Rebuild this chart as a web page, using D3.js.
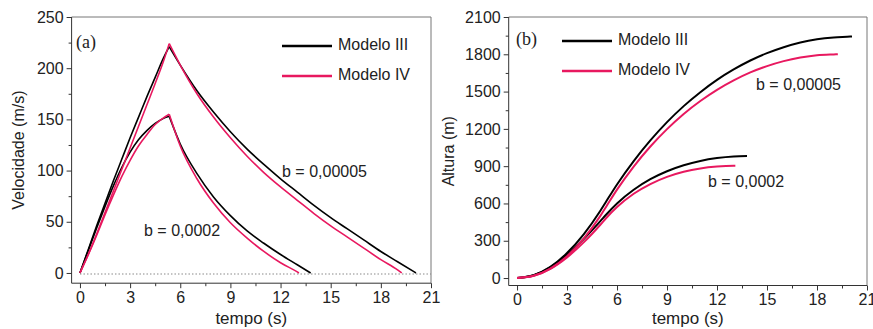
<!DOCTYPE html>
<html>
<head>
<meta charset="utf-8">
<script src="https://cdn.jsdelivr.net/npm/d3@7"></script>
<style>
  body { margin: 0; background: #fff; }
  svg { display: block; font-family: "Liberation Sans", Arial, sans-serif; }
</style>
</head>
<body>
<div id="chart"></div>
<script>
// ---- velocity (panel a) ----
var velT_III_b5 = [0,0.5,1,1.5,2,2.5,3,3.5,4,4.5,5,5.34,6,7,8,9,10,11,12,13,14,15,16,17,18,19,20,20.1];
var vel_III_b5  = [0,23,46,68,90,111,132,152,172,191,210,221,203,178,157,138,121,106,92,79,66,54,43,32,21,11,1,0];
var velT_IV_b5  = [0,0.5,1,1.5,2,2.5,3,3.5,4,4.5,5,5.34,6,7,8,9,10,11,12,13,14,15,16,17,18,19,19.25];
var vel_IV_b5   = [0,18,38,59,80,101,122,143,164,185,207,224,203,175,152,132,114,98,84,71,58,46,35,24,13,3,0];
var velT_III_b2 = [0,0.5,1,1.5,2,2.5,3,3.5,4,4.5,5,5.34,6,7,8,9,10,11,12,13,13.8];
var vel_III_b2  = [0,22,44,65,85,103,118,130,139,146,151,153,126,97,74,56,41,29,18,8,0];
var velT_IV_b2  = [0,0.5,1,1.5,2,2.5,3,3.5,4,4.5,5,5.34,6,7,8,9,10,11,12,13,13.1];
var vel_IV_b2   = [0,18,37,57,76,94,110,124,135,145,151.5,155,124,92,68,49,34,21,10,1,0];

// ---- altitude (panel b) ----
var altT_III_b5 = [0,1,2,3,4,5,5.34,6,7,8,9,10,11,12,13,14,15,16,17,18,19,20,20.1];
var alt_III_b5  = [0,23,90,201,351,541,614,753,941,1107,1254,1383,1495,1594,1678,1750,1809,1857,1895,1921,1936,1943,1944];
var altT_IV_b5  = [0,1,2,3,4,5,5.34,6,7,8,9,10,11,12,13,14,15,16,17,18,19,19.25];
var alt_IV_b5   = [0,18,76,176,317,500,572,711,897,1058,1198,1320,1424,1514,1590,1654,1705,1745,1774,1793,1799,1800];
var altT_III_b2 = [0,1,2,3,4,5,5.34,6,7,8,9,10,11,12,13,13.8];
var alt_III_b2  = [0,22,86,187,314,458,509,600,710,795,859,907,942,965,978,981];
var altT_IV_b2  = [0,1,2,3,4,5,5.34,6,7,8,9,10,11,12,13,13.1];
var alt_IV_b2   = [0,18,74,166,287,429,481,571,678,756,814,855,882,897,903,903];

var xTicks     = [0,3,6,9,12,15,18,21];
var velTicks   = [0,50,100,150,200,250];
var altTicks   = [0,300,600,900,1200,1500,1800,2100];
var seriesNames = ["Modelo III", "Modelo IV"];
var colors = {"Modelo III": "#000000", "Modelo IV": "#e8185f"};

var svg = d3.select("#chart").append("svg")
    .attr("width", 873)
    .attr("height", 329);

function zip(ts, vs) {
    return ts.map(function(t, i) { return [t, vs[i]]; });
}

function drawPanel(cfg) {
    var x = d3.scaleLinear().domain([-0.5, 21]).range(cfg.xRange);
    var y = d3.scaleLinear().domain(cfg.yDomain).range(cfg.yRange);
    var g = svg.append("g");

    var x0 = x(-0.5), x1 = x(21), y0 = y(cfg.yDomain[0]), y1 = y(cfg.yDomain[1]);

    // frame: top/right lighter
    g.append("line").attr("x1", x0).attr("x2", x1).attr("y1", y1).attr("y2", y1)
        .attr("stroke", "#777").attr("stroke-width", 1);
    g.append("line").attr("x1", x1).attr("x2", x1).attr("y1", y1).attr("y2", y0)
        .attr("stroke", "#777").attr("stroke-width", 1);

    // minor ticks
    var minorX = d3.range(1.5, 21, 3);
    var minorY = d3.range(cfg.yTicks[0] + cfg.yStep / 2, cfg.yTicks[cfg.yTicks.length - 1], cfg.yStep);

    g.append("g").attr("transform", "translate(0," + y0 + ")")
        .call(d3.axisBottom(x).tickValues(minorX).tickSize(3).tickFormat(""))
        .call(function(a) { a.select(".domain").remove(); a.selectAll("line").attr("stroke", "#333"); });
    g.append("g").attr("transform", "translate(" + x0 + ",0)")
        .call(d3.axisLeft(y).tickValues(minorY).tickSize(3).tickFormat(""))
        .call(function(a) { a.select(".domain").remove(); a.selectAll("line").attr("stroke", "#333"); });

    // major axes
    var xa = g.append("g").attr("transform", "translate(0," + y0 + ")")
        .call(d3.axisBottom(x).tickValues(xTicks).tickFormat(d3.format("d"))
            .tickSize(5).tickSizeOuter(0).tickPadding(3));
    xa.select(".domain").attr("stroke", "#333").attr("d", "M" + x0 + ",0H" + x1);
    xa.selectAll("line").attr("stroke", "#333");
    xa.selectAll("text").attr("font-size", 16).attr("fill", "#222").attr("font-family", "Liberation Sans, Arial, sans-serif");

    var ya = g.append("g").attr("transform", "translate(" + x0 + ",0)")
        .call(d3.axisLeft(y).tickValues(cfg.yTicks).tickFormat(d3.format("d"))
            .tickSize(5).tickSizeOuter(0).tickPadding(3));
    ya.select(".domain").attr("stroke", "#333").attr("d", "M0," + y0 + "V" + y1);
    ya.selectAll("line").attr("stroke", "#333");
    ya.selectAll("text").attr("font-size", 16).attr("fill", "#222").attr("font-family", "Liberation Sans, Arial, sans-serif");

    // axis titles
    g.append("text").attr("x", (x0 + x1) / 2).attr("y", cfg.xTitleY)
        .attr("text-anchor", "middle").attr("font-size", 17).attr("fill", "#222").text("tempo (s)");
    g.append("text")
        .attr("transform", "translate(" + cfg.yTitleX + "," + (y0 + y1) / 2 + ") rotate(-90)")
        .attr("text-anchor", "middle").attr("dominant-baseline", "middle")
        .attr("font-size", 16).attr("fill", "#222").text(cfg.yTitle);

    if (cfg.zeroLine) {
        g.append("line").attr("x1", x(0)).attr("x2", x1).attr("y1", y(-1)).attr("y2", y(-1))
            .attr("stroke", "#888").attr("stroke-width", 1.2).attr("stroke-dasharray", "1.5,2");
    }

    // curves
    var line = d3.line().x(function(d) { return x(d[0]); }).y(function(d) { return y(d[1]); })
        .curve(d3.curveMonotoneX);
    cfg.series.forEach(function(s) {
        var pts = zip(s.t, s.v);
        var parts = [pts];
        if (cfg.splitAtPeak) {
            var k = d3.maxIndex(pts, function(d) { return d[1]; });
            parts = [pts.slice(0, k + 1), pts.slice(k)];
        }
        parts.forEach(function(p) {
            g.append("path").attr("d", line(p)).attr("fill", "none")
                .attr("stroke", colors[s.name]).attr("stroke-width", cfg.lw)
                .attr("stroke-linejoin", "round");
        });
    });

    // panel label
    g.append("text").attr("x", cfg.label[1]).attr("y", cfg.label[2])
        .attr("font-family", "Liberation Serif, Times New Roman, serif")
        .attr("font-size", 18).attr("fill", "#222").text(cfg.label[0]);

    // legend
    seriesNames.forEach(function(n, i) {
        var ly = cfg.legend[1] + i * 30;
        g.append("line").attr("x1", cfg.legend[0]).attr("x2", cfg.legend[0] + 50)
            .attr("y1", ly).attr("y2", ly)
            .attr("stroke", colors[n]).attr("stroke-width", 2.5);
        g.append("text").attr("x", cfg.legend[0] + 56).attr("y", ly)
            .attr("dominant-baseline", "middle").attr("font-size", 16).attr("fill", "#222").text(n);
    });

    // annotations
    cfg.notes.forEach(function(n) {
        g.append("text").attr("x", n[1]).attr("y", n[2])
            .attr("dominant-baseline", "middle").attr("font-size", 16).attr("fill", "#222").text(n[0]);
    });
}

drawPanel({
    xRange: [71.6, 431], yDomain: [-10, 250], yRange: [283.2, 17],
    yTicks: velTicks, yStep: 50, yTitle: "Velocidade (m/s)", yTitleX: 20, xTitleY: 324,
    zeroLine: true, splitAtPeak: true, lw: 1.6,
    label: ["(a)", 76, 48], legend: [282, 46],
    notes: [["b = 0,00005", 282, 173], ["b = 0,0002", 144, 232]],
    series: [
        {name: "Modelo III", t: velT_III_b5, v: vel_III_b5},
        {name: "Modelo III", t: velT_III_b2, v: vel_III_b2},
        {name: "Modelo IV", t: velT_IV_b5, v: vel_IV_b5},
        {name: "Modelo IV", t: velT_IV_b2, v: vel_IV_b2}
    ]
});

drawPanel({
    xRange: [508.7, 867], yDomain: [-60, 2100], yRange: [285.5, 17],
    yTicks: altTicks, yStep: 300, yTitle: "Altura (m)", yTitleX: 450, xTitleY: 324,
    zeroLine: false, splitAtPeak: false, lw: 2,
    label: ["(b)", 516, 45], legend: [562, 41],
    notes: [["b = 0,00005", 756, 86], ["b = 0,0002", 708, 183]],
    series: [
        {name: "Modelo III", t: altT_III_b5, v: alt_III_b5},
        {name: "Modelo III", t: altT_III_b2, v: alt_III_b2},
        {name: "Modelo IV", t: altT_IV_b5, v: alt_IV_b5},
        {name: "Modelo IV", t: altT_IV_b2, v: alt_IV_b2}
    ]
});
</script>
</body>
</html>
